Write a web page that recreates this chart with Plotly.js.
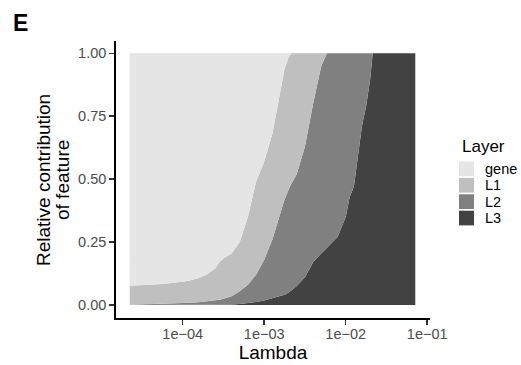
<!DOCTYPE html>
<html>
<head>
<meta charset="utf-8">
<script src="https://cdn.plot.ly/plotly-3.0.1.min.js"></script>
<style>html,body{margin:0;padding:0;background:#fff;}#chart{width:521px;height:365px;}</style>
</head>
<body>
<div id="chart"></div>
<script>
// Data (fraction per layer at each lambda)
var lambda = [2.24e-5, 3.16e-5, 5.62e-5, 1.0e-4, 1.26e-4, 1.58e-4, 2.0e-4, 2.51e-4, 2.82e-4, 3.16e-4,
              3.98e-4, 5.01e-4, 6.31e-4, 7.94e-4, 1.0e-3, 1.26e-3, 1.58e-3, 1.78e-3, 2.0e-3, 2.14e-3,
              2.51e-3, 3.16e-3, 3.98e-3, 5.01e-3, 5.89e-3, 6.31e-3, 7.94e-3, 1.0e-2, 1.12e-2, 1.26e-2,
              1.41e-2, 1.58e-2, 1.78e-2, 2.0e-2, 2.14e-2, 3.98e-2, 7.14e-2];
var L3   = [0, 0, 0, 0, 0, 0, 0, 0, 0.0005, 0.001,
            0.002, 0.004, 0.007, 0.012, 0.018, 0.026, 0.034, 0.041, 0.05, 0.057,
            0.075, 0.11, 0.17, 0.205, 0.228, 0.235, 0.27, 0.35, 0.43, 0.47,
            0.59, 0.71, 0.79, 0.90, 1, 1, 1];
var L2   = [0.001, 0.002, 0.004, 0.007, 0.009, 0.011, 0.014, 0.018, 0.0205, 0.024,
            0.033, 0.051, 0.073, 0.108, 0.162, 0.234, 0.336, 0.379, 0.41, 0.423,
            0.445, 0.52, 0.63, 0.745, 0.772, 0.765, 0.73, 0.65, 0.57, 0.53,
            0.41, 0.29, 0.21, 0.10, 0, 0, 0];
var L1   = [0.075, 0.076, 0.079, 0.085, 0.089, 0.096, 0.108, 0.127, 0.149, 0.16,
            0.17, 0.195, 0.27, 0.37, 0.39, 0.42, 0.485, 0.52, 0.525, 0.52,
            0.48, 0.37, 0.20, 0.05, 0, 0, 0, 0, 0, 0,
            0, 0, 0, 0, 0, 0, 0];
var gene = [0.924, 0.922, 0.917, 0.908, 0.902, 0.893, 0.878, 0.855, 0.83, 0.815,
            0.795, 0.75, 0.65, 0.51, 0.43, 0.32, 0.145, 0.06, 0.015, 0,
            0, 0, 0, 0, 0, 0, 0, 0, 0, 0,
            0, 0, 0, 0, 0, 0, 0];

var layerNames  = ['gene', 'L1', 'L2', 'L3'];
var layerColors = ['#e5e5e5', '#bfbfbf', '#808080', '#424242'];
var xTickVals = [1e-4, 1e-3, 1e-2, 1e-1];
var xTickText = ['1e\u221204', '1e\u221203', '1e\u221202', '1e\u221201'];
var yTickVals = [0, 0.25, 0.5, 0.75, 1];
var yTickText = ['0.00', '0.25', '0.50', '0.75', '1.00'];
var yTitleLines = ['Relative contribution', 'of feature'];

var FONT = 'Liberation Sans, Arial, Helvetica, sans-serif';
var series = {gene: gene, L1: L1, L2: L2, L3: L3};

// stack bottom-up: L3, L2, L1, gene
var traces = [];
['L3', 'L2', 'L1', 'gene'].forEach(function (name) {
  var i = layerNames.indexOf(name);
  traces.push({
    type: 'scatter', mode: 'lines', name: name,
    x: lambda, y: series[name],
    stackgroup: 'one',
    line: {width: 0, color: layerColors[i]},
    fillcolor: layerColors[i],
    showlegend: false, hoverinfo: 'skip'
  });
});

// plot area in pixels: left 116, right 430, top 41, bottom 318
var W = 521, H = 365, mL = 116, mR = 91, mT = 41, mB = 47;
var pw = W - mL - mR, ph = H - mT - mB;
function px(xp) { return (xp - mL) / pw; }
function py(yp) { return (H - mB - yp) / ph; }

var shapes = [], annotations = [];
// custom ggplot-style legend
annotations.push({xref: 'paper', yref: 'paper', x: px(460), y: py(146), xanchor: 'left', yanchor: 'middle',
  text: 'Layer', showarrow: false, font: {family: FONT, size: 17, color: '#000'}});
layerNames.forEach(function (name, i) {
  var top = 161.5 + i * 16.4;
  shapes.push({type: 'rect', xref: 'paper', yref: 'paper', x0: px(459), x1: px(474),
    y0: py(top + 14.7), y1: py(top), fillcolor: layerColors[i], line: {width: 0}});
  annotations.push({xref: 'paper', yref: 'paper', x: px(483), y: py(top + 7.3), xanchor: 'left', yanchor: 'middle',
    text: name, showarrow: false, font: {family: FONT, size: 14.5, color: '#000'}});
});
// y-axis title (two lines, ggplot line spacing)
yTitleLines.forEach(function (t, i) {
  annotations.push({xref: 'paper', yref: 'paper', x: px(43.5 + i * 19), y: py(180.5), xanchor: 'center', yanchor: 'middle',
    text: t, textangle: -90, showarrow: false, font: {family: FONT, size: 19, color: '#000'}});
});
// panel tag
annotations.push({xref: 'paper', yref: 'paper', x: px(20), y: py(23.5), xanchor: 'center', yanchor: 'middle',
  text: '<b>E</b>', showarrow: false, font: {family: FONT, size: 23, color: '#000'}});

var layout = {
  width: W, height: H,
  margin: {l: mL, r: mR, t: mT, b: mB, pad: 0},
  paper_bgcolor: '#fff', plot_bgcolor: '#fff',
  showlegend: false,
  font: {family: FONT},
  xaxis: {
    type: 'log', range: [-4.818, -0.966],
    tickvals: xTickVals, ticktext: xTickText,
    ticks: 'outside', ticklen: 5, tickwidth: 1.5, tickcolor: '#333',
    ticklabelstandoff: -3,
    tickfont: {family: FONT, size: 14.5, color: '#4d4d4d'},
    showline: true, linecolor: '#000', linewidth: 1.8,
    showgrid: false, zeroline: false,
    title: {text: 'Lambda', font: {family: FONT, size: 19, color: '#000'}, standoff: 3}
  },
  yaxis: {
    range: [-0.0517, 1.0489],
    tickvals: yTickVals, ticktext: yTickText,
    ticks: 'outside', ticklen: 5, tickwidth: 1.5, tickcolor: '#333',
    tickfont: {family: FONT, size: 14.5, color: '#4d4d4d'},
    showline: true, linecolor: '#000', linewidth: 1.8,
    showgrid: false, zeroline: false
  },
  shapes: shapes,
  annotations: annotations
};

Plotly.newPlot('chart', traces, layout, {displayModeBar: false, staticPlot: true});
</script>
</body>
</html>
